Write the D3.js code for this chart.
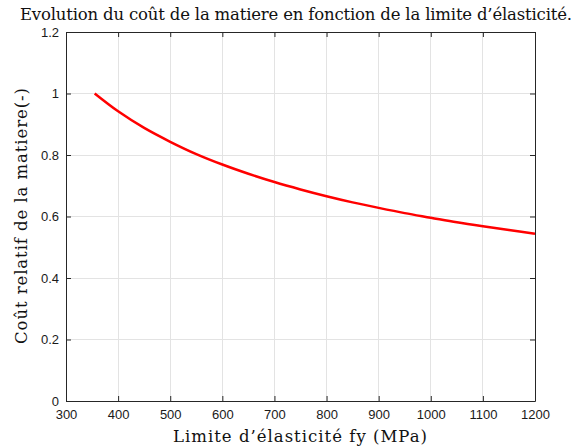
<!DOCTYPE html>
<html><head><meta charset="utf-8">
<script src="https://cdn.jsdelivr.net/npm/d3@7"></script>
<style>body{margin:0;background:#fff}svg{display:block}</style>
</head><body>
<svg id="c" width="577" height="448"></svg>
<script>
const fy = [355, 400, 450, 500, 550, 600, 650, 700, 750, 800, 850, 900, 950, 1000, 1050, 1100, 1150, 1200];
const cost = [1.0, 0.942, 0.888, 0.843, 0.803, 0.769, 0.739, 0.712, 0.688, 0.666, 0.646, 0.628, 0.611, 0.596, 0.581, 0.568, 0.556, 0.544];
const xTicks = [300, 400, 500, 600, 700, 800, 900, 1000, 1100, 1200];
const yTicks = [0, 0.2, 0.4, 0.6, 0.8, 1, 1.2];
const title = "Evolution du coût de la matiere en fonction de la limite d’élasticité.";
const xLabel = "Limite d’élasticité fy (MPa)";
const yLabel = "Coût relatif de la matiere(-)";

const L = 66, R = 535, T = 32, B = 401;
const svg = d3.select("#c");
const x = d3.scaleLinear().domain([300, 1200]).range([L, R]);
const y = d3.scaleLinear().domain([0, 1.2]).range([B, T]);
const axisCol = "#262626";

// grid
svg.append("g").selectAll("line").data(xTicks).join("line")
  .attr("x1", d => x(d)).attr("x2", d => x(d)).attr("y1", T).attr("y2", B)
  .attr("stroke", "#e3e3e3").attr("stroke-width", 1).attr("shape-rendering", "crispEdges");
svg.append("g").selectAll("line").data(yTicks).join("line")
  .attr("x1", L).attr("x2", R).attr("y1", d => y(d)).attr("y2", d => y(d))
  .attr("stroke", "#e3e3e3").attr("stroke-width", 1).attr("shape-rendering", "crispEdges");

const fmt = d => d3.format("~g")(d);
const tickFont = "'Liberation Sans', Arial, sans-serif";

const xAxis = svg.append("g").attr("transform", `translate(0,${B})`)
  .call(d3.axisBottom(x).tickValues(xTicks).tickFormat(fmt).tickSizeInner(-5).tickSizeOuter(0).tickPadding(9));
const xTop = svg.append("g").attr("transform", `translate(0,${T})`)
  .call(d3.axisTop(x).tickValues(xTicks).tickFormat("").tickSizeInner(-5).tickSizeOuter(0));
const yAxis = svg.append("g").attr("transform", `translate(${L},0)`)
  .call(d3.axisLeft(y).tickValues(yTicks).tickFormat(fmt).tickSizeInner(-5).tickSizeOuter(0).tickPadding(7));
const yRight = svg.append("g").attr("transform", `translate(${R},0)`)
  .call(d3.axisRight(y).tickValues(yTicks).tickFormat("").tickSizeInner(-5).tickSizeOuter(0));
[xAxis, xTop, yAxis, yRight].forEach(g => {
  g.selectAll("path").attr("stroke", axisCol).attr("stroke-width", 1);
  g.selectAll("line").attr("stroke", axisCol);
  g.selectAll("text").attr("fill", "#1a1a1a").style("font-family", tickFont).style("font-size", "13px");
});

// curve
svg.append("path").datum(fy.map((v, i) => [v, cost[i]]))
  .attr("fill", "none").attr("stroke", "#ff0000").attr("stroke-width", 2.5)
  .attr("d", d3.line().x(d => x(d[0])).y(d => y(d[1])).curve(d3.curveCatmullRom));

const serif = "'DejaVu Serif',serif";
svg.append("text").attr("x", 296).attr("y", 20).attr("text-anchor", "middle")
  .style("font-family", serif).style("font-size", "16.5px").attr("fill", "#111")
  .attr("textLength", 552).attr("lengthAdjust", "spacing").text(title);
svg.append("text").attr("x", 300).attr("y", 442).attr("text-anchor", "middle")
  .style("font-family", serif).style("font-size", "16.5px").attr("fill", "#111")
  .attr("textLength", 254).attr("lengthAdjust", "spacing").text(xLabel);
svg.append("text").attr("transform", "translate(27,216) rotate(-90)").attr("text-anchor", "middle")
  .style("font-family", serif).style("font-size", "16.5px").attr("fill", "#111")
  .attr("textLength", 256).attr("lengthAdjust", "spacing").text(yLabel);
</script>
</body></html>
